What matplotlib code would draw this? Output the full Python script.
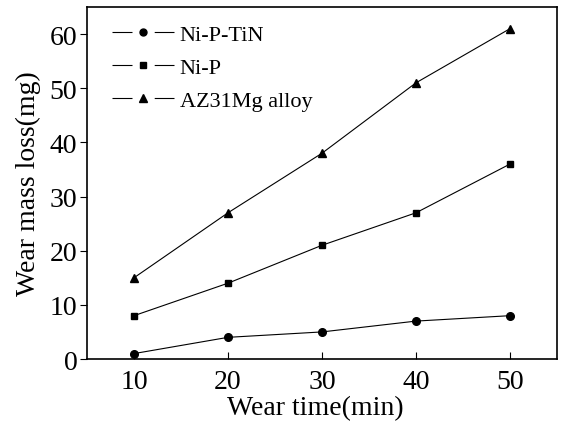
import matplotlib
matplotlib.use('Agg')
import matplotlib.pyplot as plt
from matplotlib.lines import Line2D
from matplotlib.legend_handler import HandlerTuple

time = [10, 20, 30, 40, 50]
ni_p_tin = [1, 4, 5, 7, 8]
ni_p = [8, 14, 21, 27, 36]
az31 = [15, 27, 38, 51, 61]
labels = ['Ni-P-TiN', 'Ni-P', 'AZ31Mg alloy']
markers = ['o', 's', '^']

plt.rcParams['font.family'] = 'Liberation Serif'

fig = plt.figure(figsize=(5.61, 4.27), dpi=100)
ax = fig.add_axes([87/561, 1 - 360/427, 470/561, 352/427])

sizes = [5.5, 5, 6]
for ys, m, ms in zip([ni_p_tin, ni_p, az31], markers, sizes):
    ax.plot(time, ys, color='black', lw=0.8, marker=m, ms=ms)

ax.set_xlim(5, 55)
ax.set_ylim(0, 65)
ax.set_xticks([10, 20, 30, 40, 50])
ax.set_yticks([0, 10, 20, 30, 40, 50, 60])
ax.tick_params(axis='x', direction='in', length=5, labelsize=20, pad=7)
ax.tick_params(axis='y', direction='out', length=5, labelsize=20, pad=2)
for s in ax.spines.values():
    s.set_linewidth(1.2)

ax.set_xlabel('Wear time(min)', fontsize=20)
ax.xaxis.set_label_coords(0.485, -0.102)
ax.set_ylabel('Wear mass loss(mg)', fontsize=20, labelpad=6)

# legend handles: line with a gap around the marker
handles = []
for m, ms in zip(markers, sizes):
    seg = Line2D([], [], color='black', lw=0.8, ls=(0, (18, 20)))
    mk = Line2D([], [], color='black', ls='none', marker=m, ms=ms - 0.5)
    handles.append((seg, mk))
ax.legend(handles, labels, handler_map={tuple: HandlerTuple(ndivide=1)},
          loc='upper left', frameon=False, fontsize=16, handlelength=2.8,
          handletextpad=0.25, labelspacing=0.56, borderaxespad=0,
          bbox_to_anchor=(0.034, 0.975))

fig.savefig('out.png', dpi=100)
